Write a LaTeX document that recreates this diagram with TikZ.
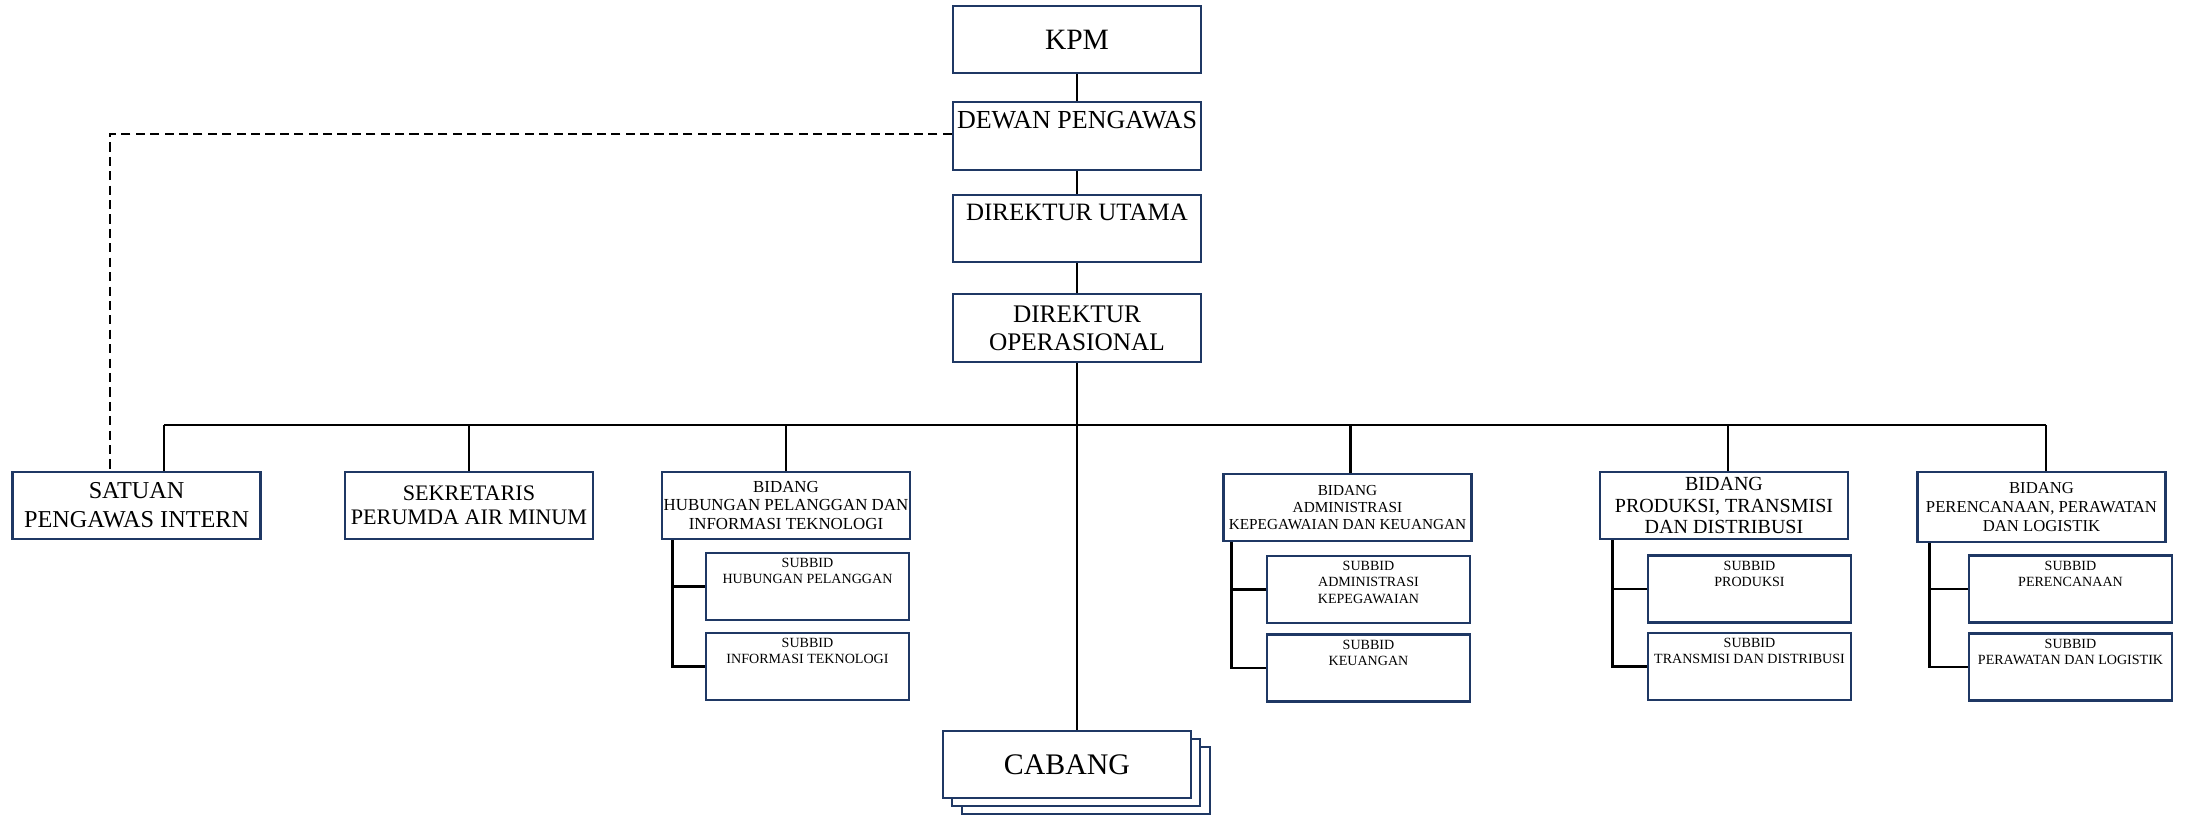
\documentclass[tikz,border=0pt]{standalone}
\usepackage{fontspec}
\setmainfont{Liberation Serif}
\usetikzlibrary{calc}
\definecolor{navy}{HTML}{1F3864}
\newcommand{\fs}[2]{\fontsize{#1}{#2}\selectfont}
\newcommand{\topin}[4]{\parbox[c][#1][t]{#2}{\centering\rule{0pt}{#3}#4\par}}
\tikzset{
  box/.style={draw=navy, line width=0.7pt, fill=white, inner sep=0pt, align=center,
              minimum width=2.48cm, minimum height=0.67cm},
  tbox/.style={draw=navy, line width=0.7pt, fill=white, inner sep=0pt},
  sub/.style={tbox, font=\fs{4}{4.6}},
  conn/.style={line width=0.75pt, black},
  dashline/.style={line width=0.75pt, black, dash pattern=on 2.6pt off 1.5pt}
}
\begin{document}
\begin{tikzpicture}
\useasboundingbox (0,0) rectangle (21.85,-8.15);

% top chain
\node[box, font=\fs{8.4}{10}] (kpm) at (10.77,-0.395) {KPM};
\node[tbox, font=\fs{7.4}{8.5}] (dewan) at (10.77,-1.36) {\topin{0.68cm}{2.48cm}{7.45pt}{DEWAN PENGAWAS}};
\node[tbox, font=\fs{7.1}{8.2}] (dirut) at (10.77,-2.285) {\topin{0.67cm}{2.48cm}{7.3pt}{DIREKTUR UTAMA}};
\node[box, font=\fs{7.2}{8}, minimum height=0.68cm] (dirop) at (10.77,-3.28) {DIREKTUR\\OPERASIONAL};

% second row
\node[box, font=\fs{6.9}{8.3}] (spi) at (1.366,-5.055) {SATUAN\\PENGAWAS INTERN};
\node[box, font=\fs{6.3}{6.9}] (sek) at (4.69,-5.055) {SEKRETARIS\\PERUMDA AIR MINUM};
\node[box, font=\fs{4.8}{5.2}] (bhp) at (7.86,-5.055) {BIDANG\\HUBUNGAN PELANGGAN DAN\\INFORMASI TEKNOLOGI};
\node[box, font=\fs{4.35}{4.9}] (bak) at (13.475,-5.075) {BIDANG\\ADMINISTRASI\\KEPEGAWAIAN DAN KEUANGAN};
\node[box, font=\fs{5.7}{6.2}] (bpt) at (17.24,-5.055) {BIDANG\\PRODUKSI, TRANSMISI\\DAN DISTRIBUSI};
\node[box, font=\fs{4.75}{5.4}, minimum height=0.70cm] (bpp) at (20.415,-5.07) {BIDANG\\PERENCANAAN, PERAWATAN\\DAN LOGISTIK};

% sub units
\node[sub] (shp) at (8.075,-5.865) {\topin{0.67cm}{2.03cm}{4.2pt}{SUBBID\\HUBUNGAN PELANGGAN}};
\node[sub] (sit) at (8.075,-6.665) {\topin{0.67cm}{2.03cm}{4.2pt}{SUBBID\\INFORMASI TEKNOLOGI}};
\node[sub] (sak) at (13.685,-5.895) {\topin{0.67cm}{2.03cm}{4.2pt}{SUBBID\\ADMINISTRASI\\KEPEGAWAIAN}};
\node[sub] (sk) at (13.685,-6.68) {\topin{0.67cm}{2.03cm}{4.2pt}{SUBBID\\KEUANGAN}};
\node[sub] (sp) at (17.495,-5.89) {\topin{0.67cm}{2.03cm}{4.2pt}{SUBBID\\PRODUKSI}};
\node[sub] (std) at (17.495,-6.665) {\topin{0.67cm}{2.03cm}{4.2pt}{SUBBID\\TRANSMISI DAN DISTRIBUSI}};
\node[sub] (sper) at (20.705,-5.89) {\topin{0.67cm}{2.03cm}{4.2pt}{SUBBID\\PERENCANAAN}};
\node[sub] (spl) at (20.705,-6.67) {\topin{0.67cm}{2.03cm}{4.2pt}{SUBBID\\PERAWATAN DAN LOGISTIK}};

% cabang stack
\node[box] (cab3) at (10.86,-7.805) {};
\node[box] (cab2) at (10.76,-7.725) {};
\node[box, font=\fs{8.5}{10}] (cab) at (10.67,-7.645) {CABANG};

% connectors
\draw[conn] (kpm) -- (dewan);
\draw[conn] (dewan) -- (dirut);
\draw[conn] (dirut) -- (dirop);
\draw[conn] (dirop.south) -- (dirop.south |- cab.north);

\coordinate (busL) at (1.64,-4.25);
\coordinate (busR) at (20.46,-4.25);
\coordinate (bakT) at ([xshift=0.03cm]bak.north);
\coordinate (bptT) at ([xshift=0.04cm]bpt.north);
\draw[conn] (busL) -- (busR);
\draw[conn] (busL) -- (busL |- spi.north);
\draw[conn] (sek.north) -- (sek.north |- busL);
\draw[conn] (bhp.north) -- (bhp.north |- busL);
\draw[conn] (bakT) -- (bakT |- busL);
\draw[conn] (bptT) -- (bptT |- busL);
\draw[conn] (busR) -- (busR |- bpp.north);

% brackets
\coordinate (bhpB) at ([xshift=0.12cm]bhp.south west);
\draw[conn] (bhpB) |- (sit.west);
\draw[conn] (bhpB |- shp.west) -- (shp.west);
\coordinate (bakB) at ([xshift=0.095cm]bak.south west);
\draw[conn] (bakB) |- (sk.west);
\draw[conn] (bakB |- sak.west) -- (sak.west);
\coordinate (bptB) at ([xshift=0.14cm]bpt.south west);
\draw[conn] (bptB) |- (std.west);
\draw[conn] (bptB |- sp.west) -- (sp.west);
\coordinate (bppB) at ([xshift=0.135cm]bpp.south west);
\draw[conn] (bppB) |- (spl.west);
\draw[conn] (bppB |- sper.west) -- (sper.west);

% dashed supervision line
\coordinate (dk) at (1.10,-1.34);
\draw[dashline] (dewan.west |- dk) -| (dk |- spi.north);
\end{tikzpicture}
\end{document}
